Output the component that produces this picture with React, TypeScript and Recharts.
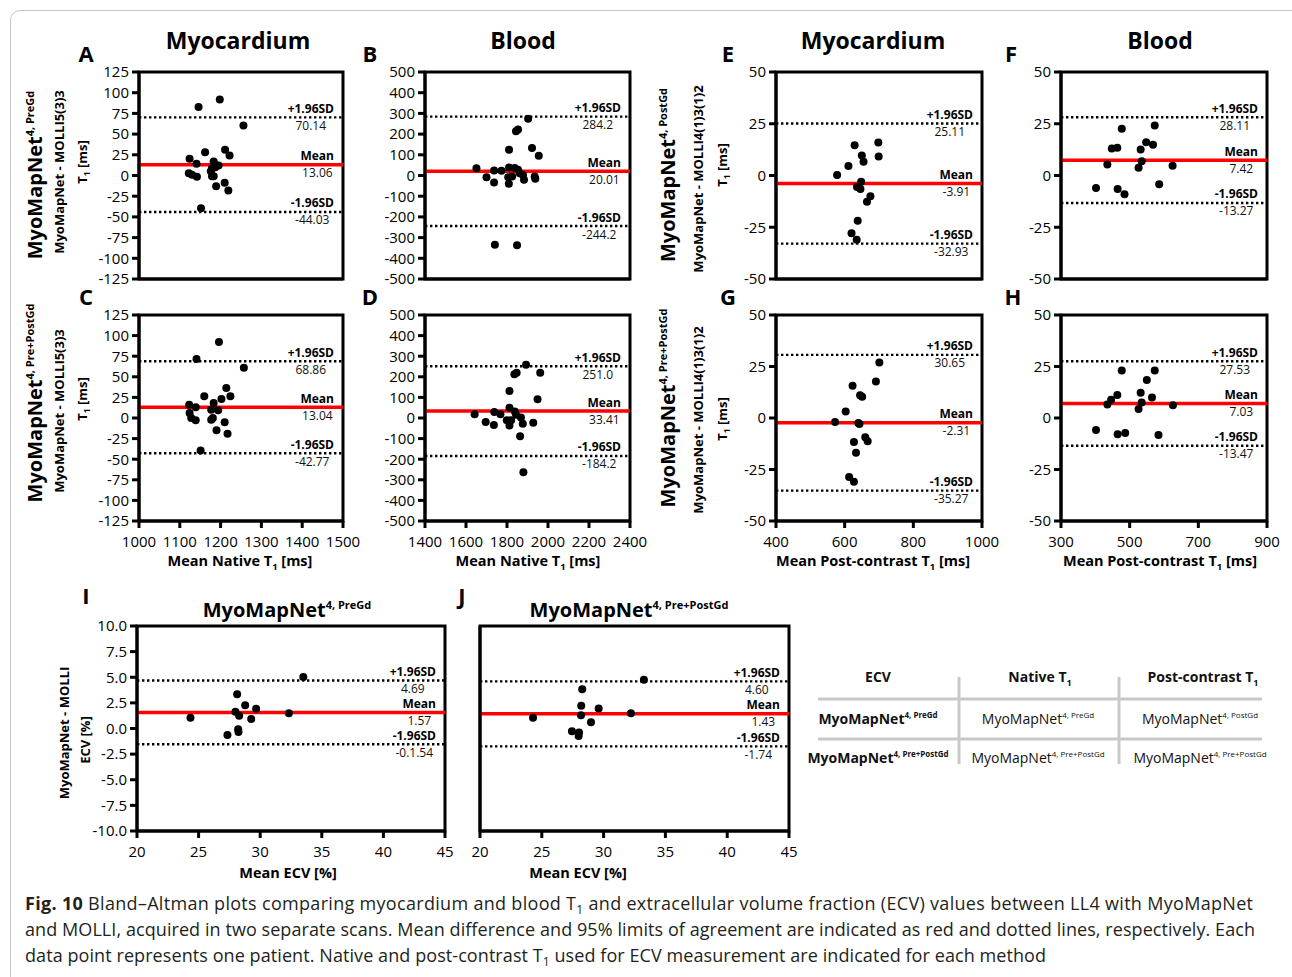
import React from 'react';
import { ScatterChart, Scatter, XAxis, YAxis, ReferenceLine, ReferenceArea } from 'recharts';

const FONT = '"Open Sans", "Noto Sans", "DejaVu Sans", sans-serif';

// ---------- tick labels ----------
const myoNativeXTicks = [1000, 1100, 1200, 1300, 1400, 1500];
const myoNativeYTicks = [-125, -100, -75, -50, -25, 0, 25, 50, 75, 100, 125];
const bloodNativeXTicks = [1400, 1600, 1800, 2000, 2200, 2400];
const bloodNativeYTicks = [-500, -400, -300, -200, -100, 0, 100, 200, 300, 400, 500];
const myoPostXTicks = [400, 600, 800, 1000];
const bloodPostXTicks = [300, 500, 700, 900];
const postYTicks = [-50, -25, 0, 25, 50];
const ecvXTicks = [20, 25, 30, 35, 40, 45];
const ecvYTicks = [-10, -7.5, -5, -2.5, 0, 2.5, 5, 7.5, 10];

// ---------- A: myocardium native, PreGd ----------
const aX = [1146, 1198, 1256, 1162, 1211, 1222, 1124, 1141, 1183, 1187, 1195, 1179, 1122, 1130, 1142, 1179, 1210, 1189, 1219, 1152, 1180, 1187, 1176, 1183];
const aY = [82.7, 91.9, 60.5, 28.2, 31, 24.2, 20.2, 14.1, 16.9, 10, 12, 8.9, 2.8, 0.8, -1.6, -0.8, -8.9, -12.9, -18.1, -39.5, 9, 13, 5, -1];
const aLim = [70.14, 13.06, -44.03];
const aLimText = ['70.14', '13.06', '-44.03'];

// ---------- B: blood native, PreGd ----------
const bX = [1651, 1700, 1737, 1737, 1773, 1810, 1810, 1806, 1809, 1825, 1838, 1844, 1854, 1854, 1862, 1878, 1883, 1903, 1922, 1955, 1935, 1938, 1741, 1849];
const bY = [35, -8, 24, -34, 23, 125, 39, -8, -40, -5, 36, 214, 222, 28, 11, 3, -21, 274, 133, 96, -5, -16, -334, -337];
const bLim = [284.2, 20.01, -244.2];
const bLimText = ['284.2', '20.01', '-244.2'];

// ---------- C: myocardium native, Pre+PostGd ----------
const cX = [1196, 1141, 1257, 1214, 1224, 1160, 1202, 1183, 1123, 1139, 1177, 1194, 1124, 1128, 1139, 1177, 1181, 1210, 1190, 1217, 1151];
const cY = [92.3, 71.7, 61.1, 36.4, 26.3, 26.3, 23.1, 18.2, 16.2, 13, 10.1, 9.3, 6.1, 0, -2.8, -2, 0, -5.3, -15, -19, -39.3];
const cLim = [68.86, 13.04, -42.77];
const cLimText = ['68.86', '13.04', '-42.77'];

// ---------- D: blood native, Pre+PostGd ----------
const dX = [1642, 1696, 1738, 1736, 1768, 1812, 1812, 1799, 1812, 1820, 1836, 1847, 1838, 1844, 1868, 1877, 1864, 1893, 1962, 1949, 1928, 1880];
const dY = [17.8, -19, 29, -34, 18, 131, 50, -11, -36, -11, 212, 220, 32, 16, 2, -28, -89, 259, 220, 91, -23, -263];
const dLim = [251.0, 33.41, -184.2];
const dLimText = ['251.0', '33.41', '-184.2'];

// ---------- E: myocardium post-contrast, PostGd ----------
const eX = [578, 611, 629, 650, 655, 698, 699, 648, 636, 646, 675, 665, 638, 620, 635];
const eY = [0.2, 4.6, 14.6, 9.7, 6.7, 16, 9.2, -3, -5.6, -6.5, -10, -12.7, -21.9, -27.9, -31];
const eLim = [25.11, -3.91, -32.93];
const eLimText = ['25.11', '-3.91', '-32.93'];

// ---------- F: blood post-contrast, PostGd ----------
const fX = [402, 435, 448, 464, 477, 465, 485, 526, 532, 535, 548, 568, 573, 586, 625];
const fY = [-6, 5.3, 13, 13.4, 22.6, -6.5, -9, 3.7, 12.6, 6.9, 16.1, 14.8, 24.2, -4.2, 4.7];
const fLim = [28.11, 7.42, -13.27];
const fLimText = ['28.11', '7.42', '-13.27'];

// ---------- G: myocardium post-contrast, Pre+PostGd ----------
const gX = [701, 691, 623, 645, 651, 603, 572, 640, 643, 660, 667, 627, 633, 613, 627];
const gY = [26.9, 17.7, 15.6, 11, 10.3, 3.2, -1.9, -2.4, -2.9, -9.4, -11.3, -11.6, -16.9, -28.7, -31];
const gLim = [30.65, -2.31, -35.27];
const gLimText = ['30.65', '-2.31', '-35.27'];

// ---------- H: blood post-contrast, Pre+PostGd ----------
const hX = [402, 435, 446, 464, 477, 465, 487, 526, 532, 535, 550, 565, 573, 584, 626];
const hY = [-5.8, 6.5, 8.9, 11.2, 23, -7.9, -7.3, 4.4, 12.3, 7.5, 18.5, 9.9, 23, -8.3, 6.2];
const hLim = [27.53, 7.03, -13.47];
const hLimText = ['27.53', '7.03', '-13.47'];

// ---------- I: ECV, PreGd ----------
const iX = [24.34, 28.13, 27.99, 28.29, 28.78, 29.67, 29.27, 28.21, 28.24, 27.34, 32.33, 33.5];
const iY = [1.06, 3.33, 1.64, 1.25, 2.26, 1.93, 0.93, -0.08, -0.34, -0.63, 1.48, 5.02];
const iLim = [4.69, 1.57, -1.54];
const iLimText = ['4.69', '1.57', '-0.1.54'];

// ---------- J: ECV, Pre+PostGd ----------
const jX = [24.29, 28.27, 28.19, 28.17, 29.6, 28.98, 27.44, 28.01, 27.98, 32.21, 33.26];
const jY = [1.04, 3.84, 2.21, 1.3, 1.95, 0.62, -0.26, -0.39, -0.72, 1.5, 4.76];
const jLim = [4.6, 1.43, -1.74];
const jLimText = ['4.60', '1.43', '-1.74'];

const limNames = ['+1.96SD', 'Mean', '-1.96SD'];
const limNameWidths = [46.5, 33.3, 43.5];

const LimLabel = (props: any) => {
  const { viewBox, lt, lv, lw } = props;
  if (!viewBox) return null;
  const right = viewBox.x + viewBox.width - 9;
  const y = viewBox.y;
  return (
    <g fontFamily={FONT}>
      <text x={right} y={y - 4.5} textAnchor="end" fontWeight={700} fontSize={12} fill="#000">{lt}</text>
      <text x={right - lw / 2} y={y + 12.5} textAnchor="middle" fontSize={12} fill="#111">{lv}</text>
    </g>
  );
};

const Dot = (p: any) => <circle cx={p.cx} cy={p.cy} r={4} fill="#000" />;

type PanelProps = {
  left: number; top: number; w: number; h: number;
  xs: number[]; ys: number[];
  xDomain: [number, number]; xTicks: number[];
  yDomain: [number, number]; yTicks: number[];
  lim: number[]; limText: string[];
  showX: boolean; showY?: boolean; yFmt?: (v: number) => string;
};

function Panel(p: PanelProps) {
  const ML = 64, MT = 12, MR = 26, MB = 40;
  const data = p.xs.map((x, i) => ({ x, y: p.ys[i] }));
  const ax = { stroke: '#000', strokeWidth: 3 };
  const showY = p.showY !== false;
  return (
    <div style={{ position: 'absolute', left: p.left - ML, top: p.top - MT }}>
      <ScatterChart width={p.w + ML + MR} height={p.h + MT + MB} margin={{ top: MT, right: MR, bottom: 0, left: 0 }}>
        <XAxis type="number" dataKey="x" domain={p.xDomain} ticks={p.xTicks} interval={0} allowDataOverflow height={MB}
          axisLine={ax} tickLine={ax} tickSize={7} tickMargin={8}
          tick={p.showX ? { fill: '#000', fontSize: 15, fontFamily: FONT } : false} />
        <YAxis type="number" dataKey="y" domain={p.yDomain} ticks={p.yTicks} interval={0} allowDataOverflow width={ML}
          axisLine={ax} tickLine={ax} tickSize={7} tickMargin={3}
          tick={showY ? { fill: '#000', fontSize: 15, fontFamily: FONT } : false} tickFormatter={p.yFmt} />
        <ReferenceArea x1={p.xDomain[0]} x2={p.xDomain[1]} y1={p.yDomain[0]} y2={p.yDomain[1]} fill="none" fillOpacity={0} stroke="#000" strokeWidth={3} ifOverflow="visible" />
        <ReferenceLine y={p.lim[0]} stroke="#000" strokeWidth={2.4} strokeDasharray="2.4 2.6"
          label={<LimLabel lt={limNames[0]} lv={p.limText[0]} lw={limNameWidths[0]} />} />
        <ReferenceLine y={p.lim[1]} stroke="#ff0000" strokeWidth={3.5}
          label={<LimLabel lt={limNames[1]} lv={p.limText[1]} lw={limNameWidths[1]} />} />
        <ReferenceLine y={p.lim[2]} stroke="#000" strokeWidth={2.4} strokeDasharray="2.4 2.6"
          label={<LimLabel lt={limNames[2]} lv={p.limText[2]} lw={limNameWidths[2]} />} />
        <Scatter data={data} shape={Dot} isAnimationActive={false} />
      </ScatterChart>
    </div>
  );
}

const VText = ({ x, y, size, bold, children }: any) => (
  <text transform={`translate(${x},${y}) rotate(-90)`} textAnchor="middle" fontSize={size} fontWeight={bold ? 700 : 400} fill="#000">{children}</text>
);

const Sup = ({ children, size, shift }: any) => (
  <tspan fontSize={size} dy={-shift}>{children}</tspan>
);

const BigTitle = ({ x, y, sup }: any) => (
  <VText x={x} y={y} size={20} bold>MyoMapNet<Sup size={11} shift={8}>{sup}</Sup></VText>
);

const T1 = ({ size }: any) => (
  <>T<tspan fontSize={size * 0.65} dy={size * 0.25}>1</tspan><tspan dy={-size * 0.25}>{' '}</tspan></>
);

const ecvFmt = (v: number) => v.toFixed(1);

export default function App() {
  return (
    <div style={{ position: 'absolute', left: 0, top: 0, width: 1292, height: 977, background: '#fff', fontFamily: FONT, overflow: 'hidden' }}>
      <div style={{ position: 'absolute', left: 10, top: 10, width: 1300, height: 1000, border: '1px solid #c4c4c4', borderRadius: 10 }} />

      <Panel left={139} top={72} w={204} h={207} xs={aX} ys={aY} xDomain={[1000, 1500]} xTicks={myoNativeXTicks} yDomain={[-125, 125]} yTicks={myoNativeYTicks} lim={aLim} limText={aLimText} showX={false} />
      <Panel left={425} top={72} w={205} h={207} xs={bX} ys={bY} xDomain={[1400, 2400]} xTicks={bloodNativeXTicks} yDomain={[-500, 500]} yTicks={bloodNativeYTicks} lim={bLim} limText={bLimText} showX={false} />
      <Panel left={776} top={72} w={206} h={207} xs={eX} ys={eY} xDomain={[400, 1000]} xTicks={myoPostXTicks} yDomain={[-50, 50]} yTicks={postYTicks} lim={eLim} limText={eLimText} showX={false} />
      <Panel left={1061} top={72} w={206} h={207} xs={fX} ys={fY} xDomain={[300, 900]} xTicks={bloodPostXTicks} yDomain={[-50, 50]} yTicks={postYTicks} lim={fLim} limText={fLimText} showX={false} />

      <Panel left={139} top={315} w={204} h={206} xs={cX} ys={cY} xDomain={[1000, 1500]} xTicks={myoNativeXTicks} yDomain={[-125, 125]} yTicks={myoNativeYTicks} lim={cLim} limText={cLimText} showX />
      <Panel left={425} top={315} w={205} h={206} xs={dX} ys={dY} xDomain={[1400, 2400]} xTicks={bloodNativeXTicks} yDomain={[-500, 500]} yTicks={bloodNativeYTicks} lim={dLim} limText={dLimText} showX />
      <Panel left={776} top={315} w={206} h={206} xs={gX} ys={gY} xDomain={[400, 1000]} xTicks={myoPostXTicks} yDomain={[-50, 50]} yTicks={postYTicks} lim={gLim} limText={gLimText} showX />
      <Panel left={1061} top={315} w={206} h={206} xs={hX} ys={hY} xDomain={[300, 900]} xTicks={bloodPostXTicks} yDomain={[-50, 50]} yTicks={postYTicks} lim={hLim} limText={hLimText} showX />

      <Panel left={137} top={626} w={308} h={205} xs={iX} ys={iY} xDomain={[20, 45]} xTicks={ecvXTicks} yDomain={[-10, 10]} yTicks={ecvYTicks} lim={iLim} limText={iLimText} showX yFmt={ecvFmt} />
      <Panel left={480} top={626} w={309} h={205} xs={jX} ys={jY} xDomain={[20, 45]} xTicks={ecvXTicks} yDomain={[-10, 10]} yTicks={ecvYTicks} lim={jLim} limText={jLimText} showX showY={false} yFmt={ecvFmt} />

      <svg width={1292} height={977} style={{ position: 'absolute', left: 0, top: 0, pointerEvents: 'none' }} fontFamily={FONT}>
        {/* column headers */}
        <g fontSize={23} fontWeight={700} textAnchor="middle" fill="#000">
          <text x={238} y={49}>Myocardium</text>
          <text x={523} y={49}>Blood</text>
          <text x={873} y={49}>Myocardium</text>
          <text x={1160} y={49}>Blood</text>
        </g>
        {/* panel letters */}
        <g fontSize={22} fontWeight={700} textAnchor="middle" fill="#000">
          <text x={86} y={62}>A</text>
          <text x={370} y={62}>B</text>
          <text x={728} y={62}>E</text>
          <text x={1011} y={62}>F</text>
          <text x={86} y={305}>C</text>
          <text x={370} y={305}>D</text>
          <text x={728} y={305}>G</text>
          <text x={1013} y={305}>H</text>
          <text x={86} y={604}>I</text>
          <text x={462} y={604}>J</text>
        </g>
        {/* left y titles */}
        <BigTitle x={42} y={175} sup="4, PreGd" />
        <BigTitle x={42} y={403} sup="4, Pre+PostGd" />
        <BigTitle x={675} y={175} sup="4, PostGd" />
        <BigTitle x={675} y={408} sup="4, Pre+PostGd" />
        <VText x={64} y={172} size={13} bold>MyoMapNet - MOLLI5(3)3</VText>
        <VText x={64} y={411} size={13} bold>MyoMapNet - MOLLI5(3)3</VText>
        <VText x={703} y={179} size={13} bold>MyoMapNet - MOLLI4(1)3(1)2</VText>
        <VText x={703} y={420} size={13} bold>MyoMapNet - MOLLI4(1)3(1)2</VText>
        <VText x={87} y={162} size={13} bold><T1 size={13} />[ms]</VText>
        <VText x={87} y={399} size={13} bold><T1 size={13} />[ms]</VText>
        <VText x={727} y={165} size={13} bold><T1 size={13} />[ms]</VText>
        <VText x={727} y={419} size={13} bold><T1 size={13} />[ms]</VText>
        <VText x={69} y={733} size={13} bold>MyoMapNet - MOLLI</VText>
        <VText x={90} y={740} size={13} bold>ECV [%]</VText>
        {/* x titles */}
        <g fontSize={14.5} fontWeight={700} textAnchor="middle" fill="#000">
          <text x={240} y={566}>Mean Native <T1 size={14.5} />[ms]</text>
          <text x={528} y={566}>Mean Native <T1 size={14.5} />[ms]</text>
          <text x={873} y={566}>Mean Post-contrast <T1 size={14.5} />[ms]</text>
          <text x={1160} y={566}>Mean Post-contrast <T1 size={14.5} />[ms]</text>
          <text x={288} y={878}>Mean ECV [%]</text>
          <text x={578} y={878}>Mean ECV [%]</text>
        </g>
        {/* ECV panel titles */}
        <g fontSize={20} fontWeight={700} textAnchor="middle" fill="#000">
          <text x={287} y={617}>MyoMapNet<tspan fontSize={11} dy={-8}>4, PreGd</tspan></text>
          <text x={629} y={617}>MyoMapNet<tspan fontSize={11} dy={-8}>4, Pre+PostGd</tspan></text>
        </g>
        {/* table */}
        <g stroke="#c8c8c8" strokeWidth={3}>
          <line x1={818} y1={699} x2={1262} y2={699} />
          <line x1={818} y1={739} x2={1262} y2={739} />
          <line x1={959} y1={677} x2={959} y2={764} />
          <line x1={1119} y1={677} x2={1119} y2={764} />
        </g>
        <g fontSize={14} textAnchor="middle" fill="#111">
          <text x={878} y={682} fontWeight={700}>ECV</text>
          <text x={1040} y={682} fontWeight={700}>Native <T1 size={14} /></text>
          <text x={1203} y={682} fontWeight={700}>Post-contrast <T1 size={14} /></text>
          <text x={878} y={724} fontWeight={700}>MyoMapNet<tspan fontSize={8} dy={-6}>4, PreGd</tspan></text>
          <text x={1038} y={724}>MyoMapNet<tspan fontSize={8} dy={-6}>4, PreGd</tspan></text>
          <text x={1200} y={724}>MyoMapNet<tspan fontSize={8} dy={-6}>4, PostGd</tspan></text>
          <text x={878} y={763} fontWeight={700}>MyoMapNet<tspan fontSize={8} dy={-6}>4, Pre+PostGd</tspan></text>
          <text x={1038} y={763}>MyoMapNet<tspan fontSize={8} dy={-6}>4, Pre+PostGd</tspan></text>
          <text x={1200} y={763}>MyoMapNet<tspan fontSize={8} dy={-6}>4, Pre+PostGd</tspan></text>
        </g>
        {/* caption */}
        <g fontSize={18} fill="#231f20">
          <text x={25} y={910} textLength={1228} lengthAdjust="spacing"><tspan fontWeight={700}>Fig. 10</tspan>{'  '}Bland–Altman plots comparing myocardium and blood T<tspan fontSize={12} dy={4}>1</tspan><tspan dy={-4}> and extracellular volume fraction (ECV) values between LL4 with MyoMapNet</tspan></text>
          <text x={25} y={936} textLength={1230} lengthAdjust="spacing">and MOLLI, acquired in two separate scans. Mean difference and 95% limits of agreement are indicated as red and dotted lines, respectively. Each</text>
          <text x={25} y={962} textLength={1021} lengthAdjust="spacing">data point represents one patient. Native and post-contrast T<tspan fontSize={12} dy={4}>1</tspan><tspan dy={-4}> used for ECV measurement are indicated for each method</tspan></text>
        </g>
      </svg>
    </div>
  );
}
